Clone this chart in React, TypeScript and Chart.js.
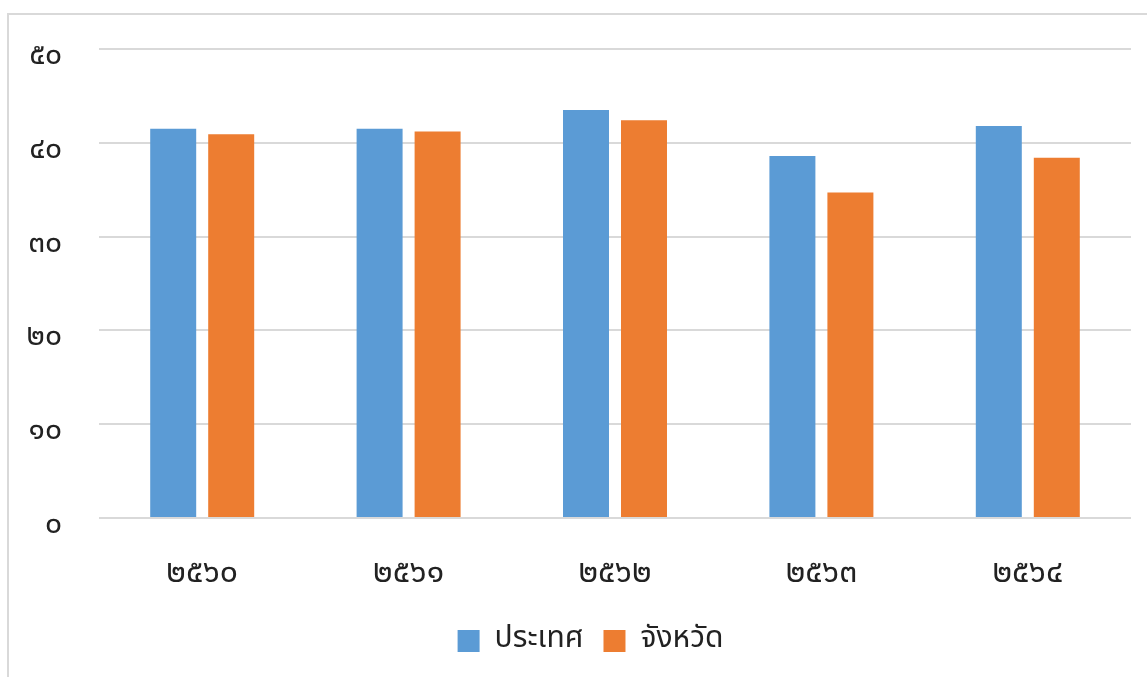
import React, { useEffect, useRef } from "react";
import { Chart, registerables } from "chart.js";

Chart.register(...registerables);

const categories = ["๒๕๖๐", "๒๕๖๑", "๒๕๖๒", "๒๕๖๓", "๒๕๖๔"];
const countryValues = [41.5, 41.5, 43.5, 38.6, 41.8];
const provinceValues = [40.9, 41.2, 42.4, 34.7, 38.4];
const yTickLabels = ["๐", "๑๐", "๒๐", "๓๐", "๔๐", "๕๐"];
const seriesNames = ["ประเทศ", "จังหวัด"];

const FONT = 'Tahoma, "Noto Sans Thai", "Leelawadee UI", sans-serif';

const legendShift = {
  id: "legendShift",
  afterLayout(chart: any) {
    if (chart.legend) {
      chart.legend.left = 50;
    }
  },
};

export default function App() {
  const ref = useRef<HTMLCanvasElement | null>(null);

  useEffect(() => {
    if (!ref.current) return;
    const chart = new Chart(ref.current, {
      type: "bar",
      data: {
        labels: categories,
        datasets: [
          {
            label: seriesNames[0],
            data: countryValues,
            backgroundColor: "#5B9BD5",
            borderWidth: 0,
            categoryPercentage: 0.562,
            barPercentage: 0.793,
          },
          {
            label: seriesNames[1],
            data: provinceValues,
            backgroundColor: "#ED7D31",
            borderWidth: 0,
            categoryPercentage: 0.562,
            barPercentage: 0.793,
          },
        ],
      },
      plugins: [legendShift],
      options: {
        responsive: false,
        animation: false,
        layout: { padding: { top: 49, right: 16, left: 0, bottom: 11 } },
        plugins: {
          tooltip: { enabled: false },
          legend: {
            position: "bottom",
            labels: {
              boxWidth: 22,
              boxHeight: 22,
              padding: 20,
              color: "#222",
              font: { family: FONT, size: 30 },
            },
          },
        },
        scales: {
          x: {
            grid: { display: false, drawTicks: false },
            border: { display: false },
            afterFit: (axis: any) => {
              axis.height = 88;
              axis.paddingLeft = 0;
              axis.paddingRight = 0;
            },
            ticks: {
              color: "#222",
              padding: 38,
              font: { family: FONT, size: 32 },
            },
          },
          y: {
            min: 0,
            max: 50,
            afterFit: (axis: any) => {
              axis.width = 99;
              axis.paddingTop = 0;
              axis.paddingBottom = 0;
            },
            grid: { color: "#d9d9d9", lineWidth: 2, drawTicks: false },
            border: { display: false },
            ticks: {
              stepSize: 10,
              padding: 37,
              labelOffset: 9,
              color: "#222",
              font: { family: FONT, size: 30 },
              callback: (v: any) => yTickLabels[Math.round(Number(v) / 10)],
            },
          },
        },
      },
    });
    return () => chart.destroy();
  }, []);

  return (
    <div
      style={{
        position: "fixed",
        left: 0,
        top: 0,
        width: 1147,
        height: 677,
        overflow: "hidden",
        background: "#fff",
      }}
    >
      <div
        style={{
          position: "absolute",
          left: 7,
          top: 13,
          width: 1200,
          height: 700,
          border: "2px solid #d9d9d9",
          boxSizing: "border-box",
        }}
      />
      <canvas
        ref={ref}
        width={1147}
        height={677}
        style={{ position: "absolute", left: 0, top: 0 }}
      />
    </div>
  );
}
